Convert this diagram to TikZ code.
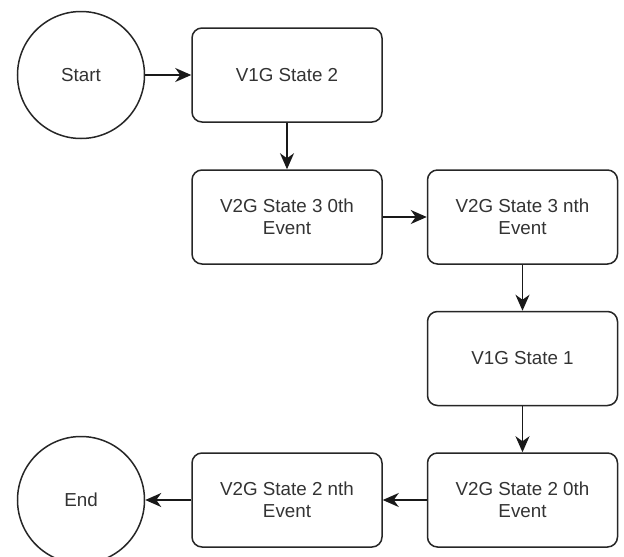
\documentclass[tikz,border=0pt]{standalone}
\usepackage{fontspec}
\setmainfont{Liberation Sans}
\usetikzlibrary{arrows.meta}
\begin{document}
\begin{tikzpicture}[x=1pt,y=-1pt,
  every node/.style={font=\fontsize{18.8}{22}\selectfont, text=black!80},
  statebox/.style={draw=black!85, line width=1.5pt, rounded corners=10pt, minimum width=190pt, minimum height=94pt, align=center, inner sep=0pt},
  terminal/.style={draw=black!85, line width=1.5pt, circle, minimum size=127pt, inner sep=0pt},
  flow/.style={-{Stealth[length=16pt,width=14pt,inset=5pt]}, draw=black!90, line width=1.5pt}]
  \useasboundingbox (0,0) rectangle (624,557);

  \node[terminal] (start) at (81,75) {Start};
  \node[statebox] (v1g2) at (287,75) {V1G State 2};
  \node[statebox] (v2g30) at (287,217) {V2G State 3 0th\\Event};
  \node[statebox] (v2g3n) at (522.5,217) {V2G State 3 nth\\Event};
  \node[statebox] (v1g1) at (522.5,358.5) {V1G State 1};
  \node[statebox] (v2g20) at (522.5,500) {V2G State 2 0th\\Event};
  \node[statebox] (v2g2n) at (287,500) {V2G State 2 nth\\Event};
  \node[terminal] (end) at (81,500) {End};

  \draw[flow] (start) -- (v1g2);
  \draw[flow] (v1g2) -- (v2g30);
  \draw[flow] (v2g30) -- (v2g3n);
  \draw[flow] (v2g3n) -- (v1g1);
  \draw[flow] (v1g1) -- (v2g20);
  \draw[flow] (v2g20) -- (v2g2n);
  \draw[flow] (v2g2n) -- (end);
\end{tikzpicture}
\end{document}
